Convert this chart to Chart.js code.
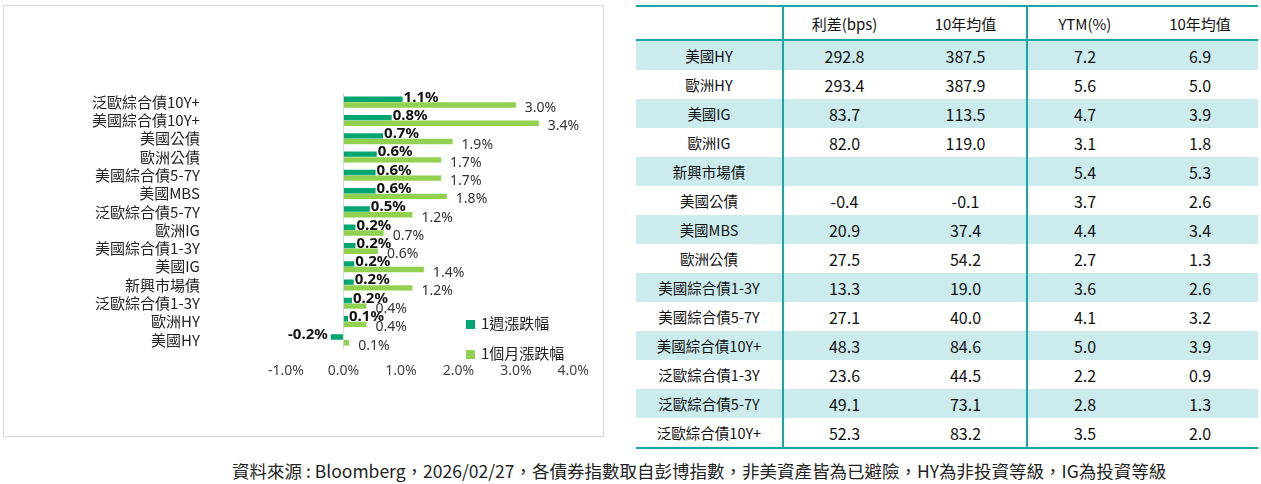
<!DOCTYPE html>
<html><head><meta charset="utf-8">
<script src="https://cdn.jsdelivr.net/npm/chart.js@4"></script>
<style>
body{margin:0;width:1261px;height:484px;background:#fff;font-family:"Noto Sans CJK TC","Noto Sans",sans-serif;position:relative;overflow:hidden}
#box{position:absolute;left:3px;top:5px;width:601px;height:432px;border:1px solid #d9d9d9;box-sizing:border-box}
#c{position:absolute;left:0;top:0}
#legend{position:absolute;left:466px;top:308px;font-size:15px;color:#222;line-height:30px}
#legend i{display:inline-block;width:9px;height:9px;margin-right:6px}
table{position:absolute;left:636px;top:5px;width:622px;table-layout:fixed;border-collapse:collapse;font-size:15px;color:#111;border-top:2px solid #1aa6a6;border-bottom:2px solid #1aa6a6}
td,th{text-align:center;height:29px;padding:0}
th{font-weight:normal;height:32px;border-bottom:2px solid #1aa6a6;font-size:15px}
td.n{font-size:16px}
td.l{font-size:14.5px}
tr.s td{background:#ccebed}
.v{border-right:2px solid #1aa6a6}
#src{position:absolute;left:232px;top:458px;font-size:17.5px;color:#222;white-space:nowrap}
</style></head><body>
<div id="box"><canvas id="c" width="599" height="430"></canvas></div>
<div id="legend"><div><i style="background:#00a671"></i>1週漲跌幅</div><div><i style="background:#92d050"></i>1個月漲跌幅</div></div>
<table id="t"><colgroup><col style="width:147px"><col style="width:122px"><col style="width:122px"><col style="width:115px"><col style="width:116px"></colgroup></table>
<div id="src">資料來源 : Bloomberg，2026/02/27，各債券指數取自彭博指數，非美資產皆為已避險，HY為非投資等級，IG為投資等級</div>
<script>
// Bar chart data
var categories = ["泛歐綜合債10Y+", "美國綜合債10Y+", "美國公債", "歐洲公債", "美國綜合債5-7Y", "美國MBS", "泛歐綜合債5-7Y", "歐洲IG", "美國綜合債1-3Y", "美國IG", "新興市場債", "泛歐綜合債1-3Y", "歐洲HY", "美國HY"];
var weekly = [1.03, 0.84, 0.69, 0.58, 0.56, 0.56, 0.46, 0.21, 0.21, 0.19, 0.18, 0.15, 0.08, -0.22];
var weeklyLabels = ["1.1%", "0.8%", "0.7%", "0.6%", "0.6%", "0.6%", "0.5%", "0.2%", "0.2%", "0.2%", "0.2%", "0.2%", "0.1%", "-0.2%"];
var monthly = [3.0, 3.4, 1.9, 1.7, 1.7, 1.8, 1.2, 0.7, 0.6, 1.4, 1.2, 0.4, 0.4, 0.1];
var xTicks = [-1, 0, 1, 2, 3, 4];

// Table data
var tableHeader = ["", "利差(bps)", "10年均值", "YTM(%)", "10年均值"];
var tableRows = ["美國HY", "歐洲HY", "美國IG", "歐洲IG", "新興市場債", "美國公債", "美國MBS", "歐洲公債", "美國綜合債1-3Y", "美國綜合債5-7Y", "美國綜合債10Y+", "泛歐綜合債1-3Y", "泛歐綜合債5-7Y", "泛歐綜合債10Y+"];
var spread = ["292.8", "293.4", "83.7", "82.0", "", "-0.4", "20.9", "27.5", "13.3", "27.1", "48.3", "23.6", "49.1", "52.3"];
var spreadAvg = ["387.5", "387.9", "113.5", "119.0", "", "-0.1", "37.4", "54.2", "19.0", "40.0", "84.6", "44.5", "73.1", "83.2"];
var ytm = ["7.2", "5.6", "4.7", "3.1", "5.4", "3.7", "4.4", "2.7", "3.6", "4.1", "5.0", "2.2", "2.8", "3.5"];
var ytmAvg = ["6.9", "5.0", "3.9", "1.8", "5.3", "2.6", "3.4", "1.3", "2.6", "3.2", "3.9", "0.9", "1.3", "2.0"];

// Build table
var html = "<tr>" + tableHeader.map(function (h, i) {
  return "<th" + ((i == 0 || i == 2) ? " class='v'" : "") + ">" + h + "</th>";
}).join("") + "</tr>";
tableRows.forEach(function (name, i) {
  html += "<tr" + (i % 2 == 0 ? " class='s'" : "") + "><td class='l v'>" + name + "</td><td class='n'>" + spread[i] +
    "</td><td class='n v'>" + spreadAvg[i] + "</td><td class='n'>" + ytm[i] + "</td><td class='n'>" + ytmAvg[i] + "</td></tr>";
});
document.getElementById("t").insertAdjacentHTML("beforeend", html);

// Value labels next to the bars
var valueLabels = {
  id: "valueLabels",
  afterDatasetsDraw: function (chart) {
    var ctx = chart.ctx;
    ctx.save();
    ctx.textBaseline = "middle";
    chart.getDatasetMeta(0).data.forEach(function (bar, i) {
      ctx.font = "bold 15px 'Noto Sans'";
      ctx.fillStyle = "#111";
      if (weekly[i] < 0) {
        ctx.textAlign = "right";
        ctx.fillText(weeklyLabels[i], bar.x - 3, bar.y - 2);
      } else {
        ctx.textAlign = "left";
        ctx.fillText(weeklyLabels[i], bar.x + 1, bar.y - 2);
      }
    });
    chart.getDatasetMeta(1).data.forEach(function (bar, i) {
      ctx.font = "14px 'Noto Sans'";
      ctx.fillStyle = "#333";
      ctx.textAlign = "left";
      ctx.fillText(monthly[i].toFixed(1) + "%", bar.x + 9, bar.y + 3);
    });
    ctx.restore();
  }
};

new Chart(document.getElementById("c"), {
  type: "bar",
  data: {
    labels: categories,
    datasets: [{
      label: "1週漲跌幅",
      data: weekly,
      backgroundColor: "#00a671"
    }, {
      label: "1個月漲跌幅",
      data: monthly,
      backgroundColor: "#92d050"
    }]
  },
  options: {
    indexAxis: "y",
    responsive: false,
    animation: false,
    categoryPercentage: 0.62,
    barPercentage: 0.95,
    layout: { padding: { top: 14, right: 14, bottom: 4, left: 10 } },
    plugins: { legend: { display: false }, tooltip: { enabled: false } },
    scales: {
      x: {
        min: -1, max: 4,
        afterBuildTicks: function (axis) {
          axis.ticks = xTicks.map(function (v) { return { value: v }; });
        },
        grid: {
          drawTicks: false,
          color: function (c) { return c.tick && c.tick.value === 0 ? "#d9d9d9" : "rgba(0,0,0,0)"; }
        },
        border: { display: false },
        ticks: {
          padding: 14,
          color: "#444",
          font: { size: 14, family: "'Noto Sans'" },
          callback: function (v) { return v.toFixed(1) + "%"; }
        }
      },
      y: {
        grid: { display: false },
        border: { display: false },
        ticks: { color: "#222", padding: 78, font: { size: 15, family: "'Noto Sans CJK TC'" } }
      }
    }
  },
  plugins: [valueLabels]
});
</script>
</body></html>
